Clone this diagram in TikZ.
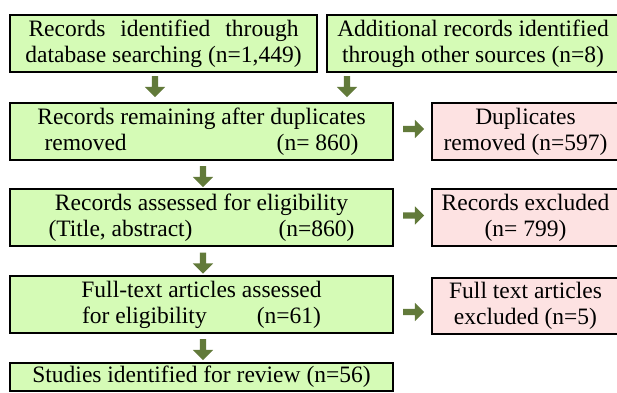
\documentclass[tikz,border=0pt]{standalone}
\usepackage{fontspec}
\setmainfont{Liberation Serif}
\usetikzlibrary{shapes.arrows}
\definecolor{gfill}{RGB}{213,251,182}
\definecolor{pfill}{RGB}{253,226,226}
\definecolor{arrcol}{RGB}{98,122,58}
\tikzset{
  gbox/.style={draw=black, line width=2pt, fill=gfill, inner sep=0pt, align=center,
    font=\fontsize{23.5}{26}\selectfont},
  pbox/.style={gbox, fill=pfill},
  blockarrow/.style={single arrow, fill=arrcol, draw=none, inner sep=3pt,
    single arrow head extend=7pt, minimum height=21pt, anchor=center},
}
\begin{document}
\begin{tikzpicture}[x=1pt,y=-1pt]
\useasboundingbox (0,0) rectangle (617,392);
% row 1
\node[gbox, minimum width=307pt, minimum height=57pt] (b1) at (163.5,43.5)
  {\makebox[270pt][s]{Records identified through}\\database searching (n=1,449)};
\node[gbox, minimum width=292pt, minimum height=57pt] (b2) at (473,43.5)
  {Additional records identified\\through other sources (n=8)};
% row 2
\node[gbox, minimum width=383pt, minimum height=57pt] (b3) at (201.5,131.5)
  {Records remaining after duplicates\\removed\hspace*{150pt}(n= 860)};
\node[pbox, minimum width=187pt, minimum height=57pt] (p3) at (525.5,131.5)
  {Duplicates\\removed (n=597)};
% row 3
\node[gbox, minimum width=383pt, minimum height=57pt] (b4) at (201.5,217.5)
  {Records assessed for eligibility\\(Title, abstract)\hspace*{86pt}(n=860)};
\node[pbox, minimum width=187pt, minimum height=57pt] (p4) at (525.5,217.5)
  {Records excluded\\(n= 799)};
% row 4
\node[gbox, minimum width=383pt, minimum height=57pt] (b5) at (201.5,304.5)
  {Full-text articles assessed\\for eligibility\hspace*{50pt}(n=61)};
\node[pbox, minimum width=187pt, minimum height=56pt] (p5) at (525.5,305.5)
  {Full text articles\\excluded (n=5)};
% row 5
\node[gbox, minimum width=383pt, minimum height=28pt] (b6) at (201.5,377)
  {Studies identified for review (n=56)};
% down arrows
\node[blockarrow, rotate=-90] (a1) at (155,85) {};
\node[blockarrow, rotate=-90] (a2) at (347,85) {};
\node[blockarrow, rotate=-90] (a3) at (203,175) {};
\node[blockarrow, rotate=-90] (a4) at (203,261.5) {};
\node[blockarrow, rotate=-90] (a5) at (203,348) {};
% right arrows
\node[blockarrow, inner sep=3pt, single arrow head extend=6pt] (r1) at (412,129) {};
\node[blockarrow, inner sep=3pt, single arrow head extend=6pt] (r2) at (412,215.5) {};
\node[blockarrow, inner sep=3pt, single arrow head extend=6pt] (r3) at (412,312) {};
\end{tikzpicture}
\end{document}
